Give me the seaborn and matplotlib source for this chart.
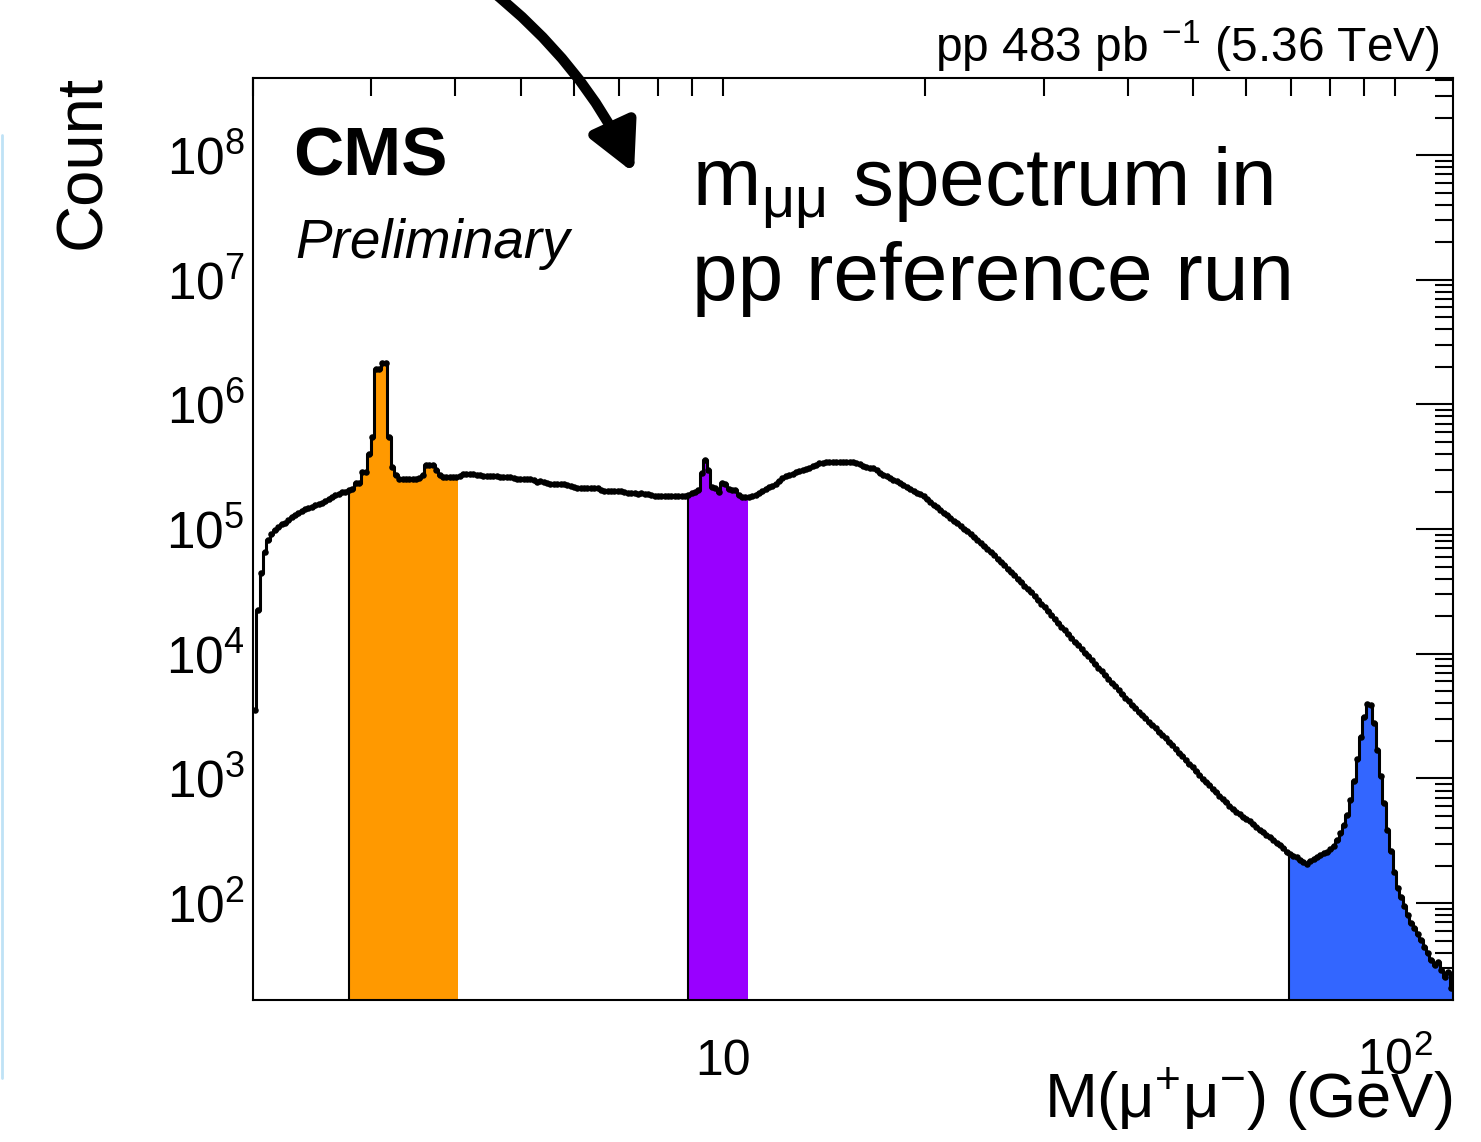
import numpy as np
import matplotlib
matplotlib.use("Agg")
import matplotlib.pyplot as plt
import matplotlib.ticker as mticker
from matplotlib.patches import FancyArrowPatch
from matplotlib.lines import Line2D
import seaborn as sns

sns.set_theme(style="white")
plt.rcParams['font.family'] = ['Liberation Sans', 'DejaVu Sans']
plt.rcParams['mathtext.fontset'] = 'custom'
plt.rcParams['mathtext.rm'] = 'Liberation Sans'
plt.rcParams['mathtext.it'] = 'Liberation Sans:italic'
plt.rcParams['mathtext.bf'] = 'Liberation Sans:bold'
for key in ['text.color', 'axes.labelcolor', 'xtick.color', 'ytick.color', 'axes.edgecolor']:
    plt.rcParams[key] = 'black'

# ---------------- data ----------------
mass_start = 2.0          # GeV, first bin edge
bin_width_dex = 0.005     # log10 bin width
n_bins = 357

log10_counts = [
    3.55, 4.35, 4.65, 4.82, 4.91, 4.96, 4.99, 5.02, 5.04, 5.05,
    5.075, 5.10, 5.115, 5.13, 5.145, 5.16, 5.17, 5.18, 5.19, 5.20,
    5.21, 5.225, 5.24, 5.255, 5.27, 5.28, 5.295, 5.30, 5.31, 5.32,
    5.37, 5.37, 5.46, 5.46, 5.60, 5.74, 6.28, 6.28, 6.33, 6.33,
    5.74, 5.50, 5.43, 5.40, 5.40, 5.40, 5.40, 5.40, 5.40, 5.41,
    5.43, 5.51, 5.51, 5.51, 5.47, 5.43, 5.42, 5.42, 5.42, 5.42,
    5.419, 5.429, 5.439, 5.439, 5.442, 5.439, 5.437, 5.437, 5.425, 5.428,
    5.425, 5.423, 5.425, 5.421, 5.421, 5.417, 5.418, 5.412, 5.400, 5.402,
    5.400, 5.398, 5.400, 5.390, 5.380, 5.382, 5.380, 5.373, 5.361, 5.363,
    5.361, 5.360, 5.361, 5.357, 5.349, 5.341, 5.331, 5.333, 5.331, 5.330,
    5.331, 5.329, 5.328, 5.317, 5.307, 5.309, 5.307, 5.305, 5.307, 5.304,
    5.296, 5.286, 5.288, 5.286, 5.285, 5.286, 5.284, 5.285, 5.277, 5.269,
    5.265, 5.266, 5.265, 5.264, 5.265, 5.263, 5.265, 5.264, 5.265, 5.273,
    5.289, 5.297, 5.313, 5.447, 5.553, 5.473, 5.339, 5.329, 5.300, 5.371,
    5.361, 5.318, 5.316, 5.313, 5.273, 5.259, 5.256, 5.259, 5.265, 5.277,
    5.290, 5.306, 5.322, 5.335, 5.348, 5.363, 5.385, 5.411, 5.422, 5.431,
    5.441, 5.455, 5.468, 5.475, 5.484, 5.492, 5.504, 5.515, 5.526, 5.532,
    5.535, 5.537, 5.537, 5.538, 5.537, 5.537, 5.536, 5.537, 5.535, 5.532,
    5.519, 5.507, 5.500, 5.492, 5.487, 5.470, 5.450, 5.436, 5.423, 5.409,
    5.395, 5.382, 5.368, 5.353, 5.338, 5.322, 5.307, 5.292, 5.278, 5.263,
    5.241, 5.218, 5.196, 5.175, 5.154, 5.132, 5.110, 5.089, 5.067, 5.046,
    5.026, 5.004, 4.983, 4.962, 4.937, 4.913, 4.889, 4.864, 4.840, 4.816,
    4.789, 4.762, 4.735, 4.708, 4.682, 4.654, 4.628, 4.601, 4.574, 4.547,
    4.520, 4.493, 4.462, 4.431, 4.401, 4.371, 4.340, 4.309, 4.279, 4.248,
    4.218, 4.187, 4.158, 4.129, 4.098, 4.069, 4.038, 4.008, 3.979, 3.949,
    3.919, 3.889, 3.858, 3.829, 3.799, 3.769, 3.739, 3.709, 3.679, 3.649,
    3.620, 3.589, 3.561, 3.535, 3.508, 3.482, 3.455, 3.429, 3.402, 3.376,
    3.349, 3.323, 3.296, 3.266, 3.236, 3.207, 3.177, 3.147, 3.117, 3.088,
    3.057, 3.028, 2.998, 2.972, 2.945, 2.918, 2.890, 2.862, 2.836, 2.809,
    2.782, 2.755, 2.731, 2.713, 2.694, 2.675, 2.655, 2.634, 2.612, 2.590,
    2.569, 2.548, 2.528, 2.506, 2.485, 2.463, 2.441, 2.413, 2.392, 2.377,
    2.366, 2.349, 2.329, 2.317, 2.341, 2.357, 2.373, 2.385, 2.399, 2.413,
    2.437, 2.459, 2.509, 2.565, 2.630, 2.703, 2.830, 2.983, 3.159, 3.334,
    3.496, 3.600, 3.588, 3.448, 3.231, 3.020, 2.804, 2.587, 2.416, 2.253,
    2.125, 2.048, 1.980, 1.904, 1.844, 1.800, 1.751, 1.706, 1.651, 1.599,
    1.543, 1.506, 1.527, 1.462, 1.406, 1.446, 1.319,
]

# shaded mass windows (GeV) and their colours
band_names = ["J/psi, psi(2S)", "Upsilon", "Z"]
band_lo = [2.78, 8.88, 69.6]
band_hi = [4.03, 10.88, 121.9]
band_colors = ["#FF9900", "#9900FF", "#3366FF"]

x_limits = (2.0, 121.9)
y_limits = (16.7, 4.15e8)
y_major_ticks = [1e2, 1e3, 1e4, 1e5, 1e6, 1e7, 1e8]
x_major_ticks = [10, 100]
x_major_labels = ["10", r"$10^{2}$"]

# ---------------- derived ----------------
assert len(log10_counts) == n_bins
counts = 10.0 ** np.array(log10_counts)
edges = mass_start * 10.0 ** (bin_width_dex * np.arange(n_bins + 1))
centers = np.sqrt(edges[:-1] * edges[1:])
step_y = np.append(counts, counts[-1])

W, H = 1481, 1142
fig = plt.figure(figsize=(W / 100, H / 100), dpi=100)
ax = fig.add_axes([253 / W, 1 - 1000 / H, 1200 / W, 922 / H])
ax.set_xscale("log")
ax.set_yscale("log")

# filled windows
for lo, hi, col in zip(band_lo, band_hi, band_colors):
    inner = edges[(edges > lo) & (edges < hi)]
    xs = np.concatenate([[lo], inner, [hi]])
    idx = np.clip(np.searchsorted(edges, xs[:-1], side="right") - 1, 0, n_bins - 1)
    ys = counts[idx]
    ys = np.append(ys, ys[-1])
    ax.fill_between(xs, ys, 1.0, step="post", color=col, lw=0, zorder=1.6)
    ax.vlines(lo, 1.0, ys[0], color="black", lw=1.5, zorder=2.2)

# histogram outline and points
sns.lineplot(x=edges, y=step_y, drawstyle="steps-post", color="black", lw=2.2,
             estimator=None, sort=False, ax=ax, zorder=3)
sns.scatterplot(x=centers, y=counts, color="black", s=22, linewidth=0, ax=ax, zorder=4)

ax.set_xlim(*x_limits)
ax.set_ylim(*y_limits)

# ticks (ROOT style)
ax.set_xticks(x_major_ticks, labels=x_major_labels, va="baseline")
ax.xaxis.set_minor_locator(mticker.LogLocator(base=10, subs=np.arange(2, 10), numticks=20))
ax.xaxis.set_minor_formatter(mticker.NullFormatter())
ax.yaxis.set_major_locator(mticker.FixedLocator(y_major_ticks))
ax.yaxis.set_major_formatter(mticker.FuncFormatter(lambda v, p: r"$10^{%d}$" % round(np.log10(v))))
ax.yaxis.set_minor_locator(mticker.LogLocator(base=10, subs=np.arange(2, 10), numticks=20))
ax.yaxis.set_minor_formatter(mticker.NullFormatter())

ax.tick_params(which="both", direction="in", top=True, right=True, width=1.5,
               color="black", labelcolor="black")
ax.tick_params(axis="y", which="major", length=26.5, labelsize=37, pad=6)
ax.tick_params(axis="y", which="minor", length=13)
ax.tick_params(axis="x", which="both", length=13)
ax.tick_params(axis="x", which="major", labelsize=36, pad=54)

for sp in ax.spines.values():
    sp.set_color("black")
    sp.set_linewidth(1.5)
    sp.set_zorder(5)

# axis titles
ax.set_xlabel(r"M(μ$^{+}$μ$^{-}$) (GeV)", fontsize=45.5, loc="right")
ax.xaxis.label.set_va("baseline")
ax.xaxis.set_label_coords((1452 - 253) / 1200, (1000 - 1118) / 922)
ax.set_ylabel("Count", fontsize=47, loc="top")
ax.yaxis.label.set_va("baseline")
ax.yaxis.set_label_coords((100 - 253) / 1200, (1000 - 75) / 922)

# texts
fig.text(293 / W, 1 - 176 / H, "CMS", fontsize=50, fontweight="bold",
         ha="left", va="baseline")
fig.text(295 / W, 1 - 258 / H, "Preliminary", fontsize=39.5, style="italic",
         ha="left", va="baseline")
fig.text(1440 / W, 1 - 62 / H, r"pp 483 pb $^{-1}$ (5.36 TeV)", fontsize=34.5,
         ha="right", va="baseline")
fig.text(692 / W, 1 - 205 / H, r"m$_{\mathrm{μμ}}$ spectrum in", fontsize=59,
         ha="left", va="baseline")
fig.text(692 / W, 1 - 300 / H, "pp reference run", fontsize=59,
         ha="left", va="baseline")

# curved arrow
arrow = FancyArrowPatch((488 / W, 1 + 12 / H), (634 / W, 1 - 173 / H),
                        transform=fig.transFigure,
                        connectionstyle="arc3,rad=-0.12",
                        arrowstyle="-|>,head_length=29,head_width=15",
                        mutation_scale=1, lw=7.5, color="black",
                        shrinkA=0, shrinkB=0, clip_on=False)
fig.add_artist(arrow)

# faint slide edge on the left
fig.add_artist(Line2D([1.5 / W, 1.5 / W], [1 - 135 / H, 1 - 1078 / H],
                      color="#bfe2f6", lw=2))

fig.savefig("out.png", dpi=100)
